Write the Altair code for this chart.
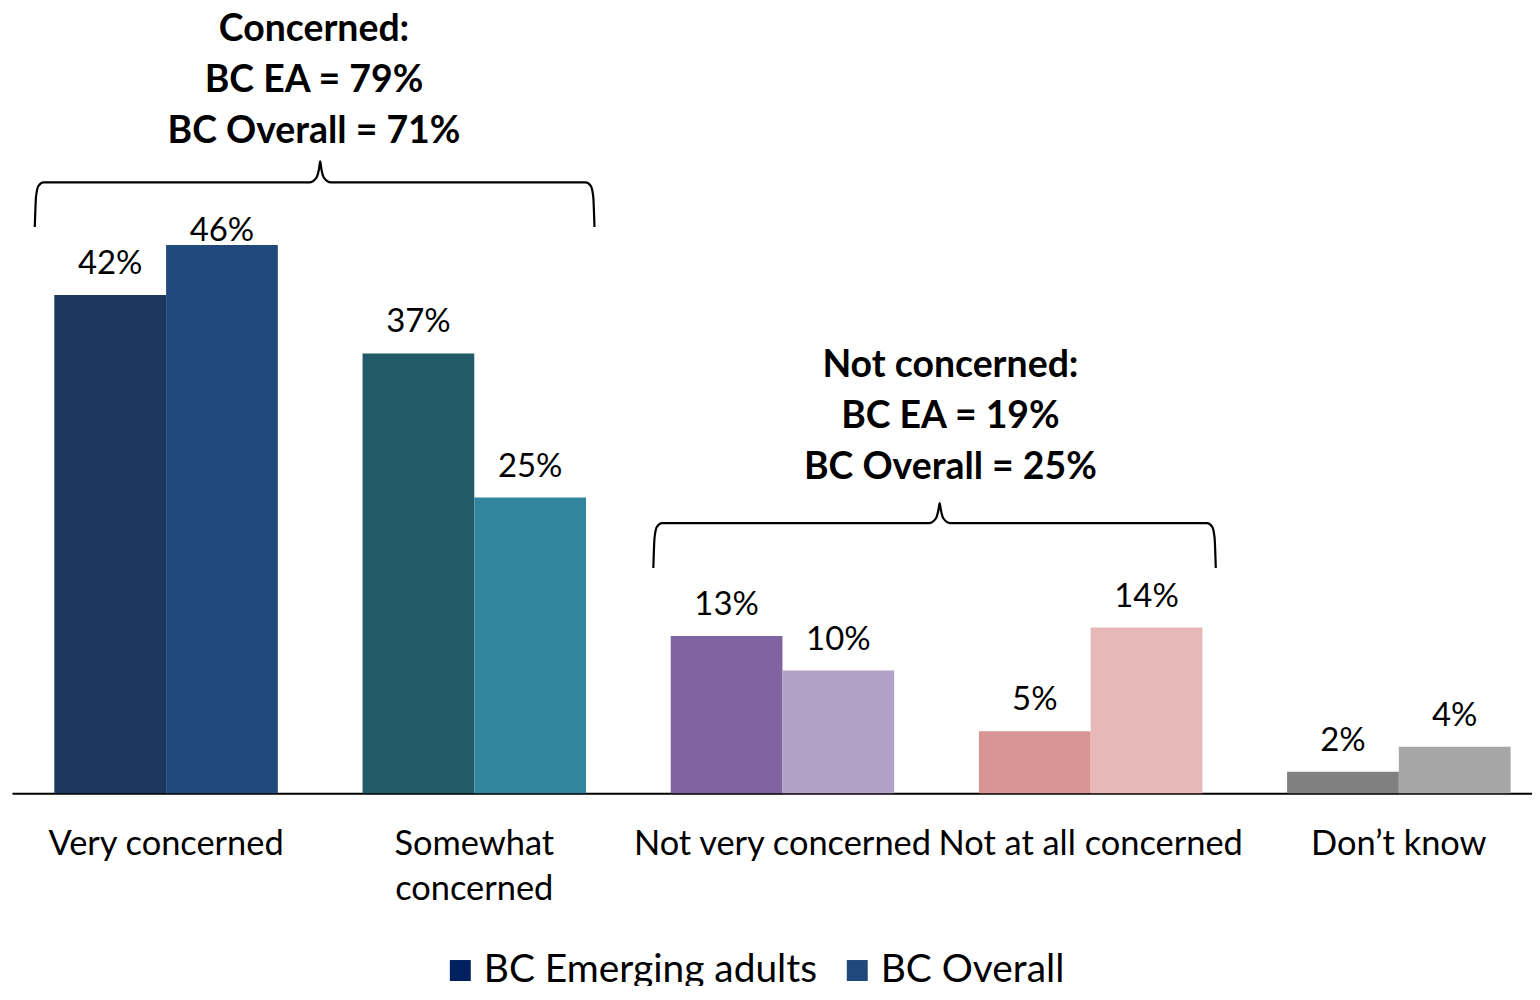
import altair as alt
import pandas as pd

FONT = "Lato"

categories = ["Very concerned", "Somewhat concerned", "Not very concerned",
              "Not at all concerned", "Don’t know"]
series = ["BC Emerging adults", "BC Overall"]
ea_values = [41.8, 36.9, 13.2, 5.2, 1.8]
overall_values = [46.0, 24.8, 10.3, 13.9, 3.9]
ea_colors = ["#1c375e", "#225b68", "#8064a1", "#d99594", "#808080"]
overall_colors = ["#21497b", "#31869e", "#b2a1c7", "#e6b8b7", "#a6a6a6"]
legend_colors = ["#002060", "#1f497d"]

group_text = ["Concerned:\nBC EA = 79%\nBC Overall = 71%",
              "Not concerned:\nBC EA = 19%\nBC Overall = 25%"]
# annotation anchors in category units (x) and percent (y)
group_text_x = [0.98, 3.045]
group_text_y = [64.0, 35.8]
brace_left = [0.074, 2.081]
brace_right = [1.89, 3.906]
brace_tip_x = [1.0, 3.01]
brace_top = [51.25, 22.66]
brace_end = [47.5, 18.9]
brace_peak = [53.0, 24.33]

# ---- tables ----
rows = []
for i, c in enumerate(categories):
    rows.append({"category": c, "series": series[0], "value": ea_values[i], "color": ea_colors[i]})
    rows.append({"category": c, "series": series[1], "value": overall_values[i], "color": overall_colors[i]})
bars_df = pd.DataFrame(rows)

legend_df = pd.DataFrame({"category": [categories[0]] * 2, "series": series, "value": [0, 0]})

brace_rows = []
for b in range(2):
    x0, x1, xm = brace_left[b], brace_right[b], brace_tip_x[b]
    yb, yt, yp = brace_end[b], brace_top[b], brace_peak[b]
    pts = [(x0, yb), (x0 + 0.004, yt - 1.2), (x0 + 0.012, yt - 0.3), (x0 + 0.028, yt),
           (xm - 0.035, yt), (xm - 0.012, yt + 0.4), (xm - 0.004, yt + 1.1), (xm, yp),
           (xm + 0.004, yt + 1.1), (xm + 0.012, yt + 0.4), (xm + 0.035, yt),
           (x1 - 0.028, yt), (x1 - 0.012, yt - 0.3), (x1 - 0.004, yt - 1.2), (x1, yb)]
    for k, (px, py) in enumerate(pts):
        brace_rows.append({"brace": b, "order": k, "pos": px, "value": py})
brace_df = pd.DataFrame(brace_rows)

text_df = pd.DataFrame({"pos": group_text_x, "value": group_text_y, "text": group_text})

# ---- scales ----
X_RANGE = [0, 1545]
band_scale = alt.Scale(domain=categories, range=X_RANGE, paddingInner=0, paddingOuter=0)
band_x = alt.X(
    "category:N", sort=categories, scale=band_scale,
    axis=alt.Axis(title=None, labelFont=FONT, labelFontSize=34.5, labelColor="black",
                  labelPadding=34, labelLineHeight=46, labelOverlap=False, labelLimit=0,
                  labelBound=False, labelAngle=0, ticks=False, grid=False,
                  domainColor="black", domainWidth=2,
                  labelExpr="datum.label == 'Somewhat concerned' ? ['Somewhat', 'concerned'] : datum.label"),
)
x_off = alt.XOffset("series:N", sort=series,
                    scale=alt.Scale(domain=series, paddingInner=0, paddingOuter=0.379))
y_enc = alt.Y("value:Q", scale=alt.Scale(domain=[0, 65.6], nice=False, zero=True), axis=None)
q_x = alt.X("pos:Q", scale=alt.Scale(domain=[0, 5], range=X_RANGE, nice=False, zero=False), axis=None)

bars = alt.Chart(bars_df).mark_bar().encode(
    x=band_x, xOffset=x_off, y=y_enc, fill=alt.Fill("color:N", scale=None)
)

label_base = alt.Chart(bars_df).transform_calculate(
    label="format(datum.value, '.0f') + '%'"
)
labels = label_base.transform_filter(
    "!(datum.category == 'Very concerned' && datum.series == 'BC Overall')"
).mark_text(font=FONT, fontSize=33, color="black", baseline="alphabetic", dy=-21).encode(
    x=band_x, xOffset=x_off, y=y_enc, text="label:N"
)
labels_nudged = label_base.transform_filter(
    "datum.category == 'Very concerned' && datum.series == 'BC Overall'"
).mark_text(font=FONT, fontSize=33, color="black", baseline="alphabetic", dy=-4).encode(
    x=band_x, xOffset=x_off, y=y_enc, text="label:N"
)

legend_layer = alt.Chart(legend_df).mark_bar().encode(
    x=band_x, xOffset=x_off, y=y_enc,
    color=alt.Color("series:N", sort=series,
                    scale=alt.Scale(domain=series, range=legend_colors),
                    legend=alt.Legend(title=None, orient="none", legendX=430, legendY=942,
                                      direction="horizontal", symbolType="square",
                                      symbolSize=441, symbolStrokeWidth=0, symbolOpacity=1,
                                      labelFont=FONT, labelFontSize=39, labelColor="black",
                                      labelOffset=4, columnPadding=20, labelLimit=0)),
)

braces = alt.Chart(brace_df).mark_line(color="black", strokeWidth=2.2, interpolate="monotone").encode(
    x=q_x, y=y_enc, detail="brace:N", order="order:Q"
)

group_labels = alt.Chart(text_df).mark_text(
    font=FONT, fontSize=37.5, fontWeight="bold", color="black", lineBreak="\n",
    lineHeight=51, align="center", baseline="middle"
).encode(x=q_x, y=y_enc, text="text:N")

band_layers = alt.layer(bars, legend_layer, labels, labels_nudged)
annot_layers = alt.layer(braces, group_labels)

chart = alt.layer(band_layers, annot_layers).resolve_scale(
    x="independent"
).properties(
    width=1524, height=784,
    autosize=alt.AutoSizeParams(type="none"),
    padding={"left": 4, "top": 2, "right": 0, "bottom": 192},
).configure_view(stroke=None)

chart.save("out.html", embed_options={"renderer": "svg", "actions": False})
